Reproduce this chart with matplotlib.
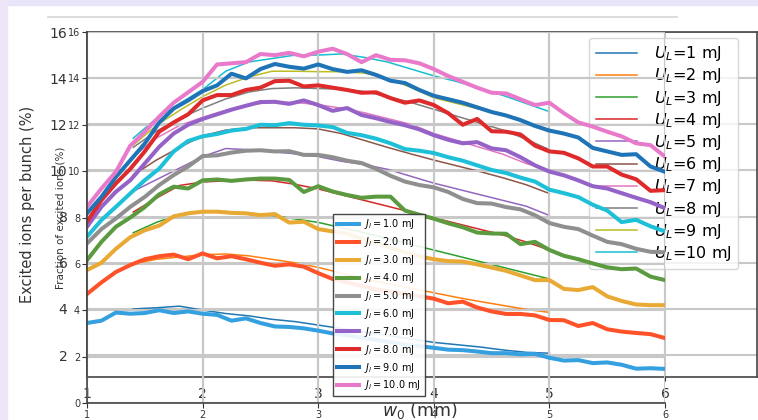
import matplotlib
matplotlib.use("Agg")
import matplotlib.pyplot as plt
from matplotlib.patches import Rectangle
from matplotlib.lines import Line2D
import numpy as np

# thick curves: fraction of excited ions vs beam waist, J_l = 1..10 mJ
w_thick = np.linspace(1.0, 6.0, 41)
j_1 = [3.45, 3.55, 3.9, 3.85, 3.88, 4.0, 3.88, 3.95, 3.85, 3.8, 3.55, 3.65, 3.45, 3.3, 3.28, 3.22, 3.12, 3.0, 2.92, 2.82,
       2.72, 2.62, 2.52, 2.45, 2.38, 2.3, 2.28, 2.22, 2.15, 2.15, 2.1, 2.12, 1.95, 1.83, 1.85, 1.72, 1.75, 1.65, 1.48, 1.5, 1.47]
j_2 = [4.7, 5.2, 5.65, 5.95, 6.2, 6.33, 6.4, 6.2, 6.45, 6.24, 6.33, 6.2, 6.05, 5.92, 5.98, 5.88, 5.6, 5.35, 5.2, 5.05,
       4.9, 4.8, 4.7, 4.6, 4.5, 4.3, 4.37, 4.12, 3.95, 3.84, 3.84, 3.78, 3.58, 3.57, 3.32, 3.45, 3.18, 3.08, 3.02, 2.97, 2.8]
j_3 = [5.73, 6.05, 6.65, 7.15, 7.45, 7.65, 8.05, 8.18, 8.25, 8.25, 8.2, 8.18, 8.1, 8.15, 7.78, 7.82, 7.5, 7.4, 7.3, 7.1,
       6.9, 6.7, 6.5, 6.32, 6.2, 6.12, 6.1, 5.98, 5.84, 5.7, 5.5, 5.3, 5.3, 4.92, 4.87, 5.0, 4.6, 4.4, 4.25, 4.22, 4.22]
j_4 = [6.16, 6.95, 7.6, 8.0, 8.45, 9.0, 9.33, 9.25, 9.6, 9.64, 9.58, 9.64, 9.68, 9.68, 9.62, 9.1, 9.35, 9.12, 8.97, 8.85,
       8.9, 8.9, 8.3, 8.12, 7.95, 7.75, 7.58, 7.35, 7.31, 7.3, 6.85, 6.95, 6.6, 6.35, 6.2, 6.02, 5.85, 5.77, 5.8, 5.45, 5.3]
j_5 = [6.88, 7.5, 7.96, 8.46, 8.89, 9.4, 9.83, 10.2, 10.65, 10.68, 10.8, 10.88, 10.9, 10.85, 10.86, 10.7, 10.7, 10.6, 10.45, 10.35,
       10.1, 9.8, 9.55, 9.4, 9.3, 9.1, 8.8, 8.62, 8.6, 8.45, 8.35, 8.1, 7.76, 7.6, 7.5, 7.22, 6.95, 6.85, 6.65, 6.52, 6.5]
j_6 = [7.17, 7.89, 8.46, 9.04, 9.61, 10.11, 10.85, 11.3, 11.5, 11.6, 11.75, 11.82, 12.0, 11.98, 12.07, 12.0, 11.97, 11.9, 11.65, 11.55,
       11.4, 11.2, 10.95, 10.88, 10.78, 10.6, 10.45, 10.25, 10.05, 9.92, 9.72, 9.55, 9.2, 9.05, 8.88, 8.55, 8.3, 7.8, 7.9, 7.62, 7.4]
j_7 = [7.6, 8.46, 9.11, 9.61, 10.33, 11.05, 11.62, 12.0, 12.25, 12.45, 12.65, 12.82, 12.98, 12.99, 12.9, 13.05, 12.85, 12.6, 12.72, 12.42,
       12.28, 12.12, 11.98, 11.8, 11.55, 11.35, 11.2, 11.25, 10.98, 10.9, 10.6, 10.25, 9.98, 9.82, 9.6, 9.35, 9.25, 9.05, 8.85, 8.66, 8.4]
j_8 = [7.82, 8.75, 9.47, 10.1, 10.85, 11.7, 12.1, 12.45, 13.05, 13.28, 13.28, 13.5, 13.6, 13.88, 13.9, 13.65, 13.7, 13.6, 13.5, 13.38,
       13.4, 13.15, 12.95, 13.05, 12.85, 12.5, 12.0, 12.25, 11.72, 11.7, 11.58, 11.1, 10.85, 10.79, 10.55, 10.2, 10.2, 9.85, 9.65, 9.15, 9.18]
j_9 = [8.18, 8.89, 9.75, 10.47, 11.19, 12.1, 12.7, 13.05, 13.45, 13.7, 14.2, 14.0, 14.4, 14.62, 14.5, 14.42, 14.6, 14.4, 14.28, 14.35,
       14.15, 13.9, 13.8, 13.5, 13.25, 13.1, 12.95, 12.75, 12.55, 12.4, 12.2, 11.95, 11.75, 11.62, 11.45, 11.0, 10.85, 10.7, 10.73, 10.2, 9.97]
j_10 = [8.46, 9.25, 9.97, 11.1, 11.7, 12.35, 12.95, 13.4, 13.85, 14.6, 14.65, 14.7, 15.05, 15.0, 15.1, 14.95, 15.15, 15.28, 15.05, 14.7,
        15.0, 14.8, 14.78, 14.65, 14.4, 14.1, 13.85, 13.6, 13.38, 13.35, 13.1, 12.85, 12.95, 12.5, 12.1, 11.92, 11.7, 11.5, 11.2, 11.12, 10.62]
j_labels = ["1.0", "2.0", "3.0", "4.0", "5.0", "6.0", "7.0", "8.0", "9.0", "10.0"]
j_colors = ["#35a0e0", "#ff5228", "#e8aa35", "#5c9a40", "#8f8f8f", "#1ec0d8", "#9562c8", "#de2a2a", "#1f74b8", "#e97acb"]

# thin curves: excited ions per bunch, U_L = 1..10 mJ
w_thin = [1.4, 1.6, 1.8, 2.0, 2.2, 2.4, 2.6, 2.8, 3.0, 3.2, 3.4, 3.6, 3.8, 4.0, 4.2, 4.4, 4.6, 4.8, 5.0]
u_1 = [4.0, 4.05, 4.12, 3.95, 3.8, 3.7, 3.55, 3.45, 3.3, 3.15, 3.0, 2.85, 2.7, 2.55, 2.45, 2.35, 2.22, 2.12, 2.08]
u_2 = [5.95, 6.15, 6.25, 6.35, 6.38, 6.3, 6.15, 6.0, 5.8, 5.55, 5.3, 5.1, 4.9, 4.7, 4.5, 4.32, 4.15, 3.98, 3.85]
u_3 = [7.3, 7.75, 8.1, 8.22, 8.22, 8.15, 8.05, 7.9, 7.75, 7.52, 7.3, 7.05, 6.8, 6.55, 6.3, 6.05, 5.8, 5.55, 5.3]
u_4 = [8.2, 8.8, 9.35, 9.5, 9.55, 9.58, 9.55, 9.4, 9.2, 8.95, 8.7, 8.45, 8.2, 7.95, 7.7, 7.45, 7.2, 6.9, 6.55]
u_5 = [9.1, 9.6, 10.1, 10.6, 10.95, 10.9, 10.82, 10.72, 10.6, 10.4, 10.25, 10.05, 9.75, 9.45, 9.2, 8.95, 8.7, 8.45, 8.05]
u_6 = [9.8, 10.45, 11.0, 11.5, 11.75, 11.85, 11.85, 11.85, 11.8, 11.6, 11.3, 11.0, 10.72, 10.45, 10.2, 9.95, 9.68, 9.38, 9.0]
u_7 = [10.6, 11.4, 11.95, 12.3, 12.6, 12.85, 12.95, 12.95, 12.85, 12.7, 12.5, 12.25, 12.0, 11.6, 11.3, 11.0, 10.7, 10.3, 10.0]
u_8 = [11.0, 11.7, 12.25, 12.7, 13.1, 13.4, 13.55, 13.58, 13.55, 13.52, 13.42, 13.2, 12.95, 12.65, 12.35, 12.05, 11.75, 11.35, 10.9]
u_9 = [11.1, 11.95, 12.6, 13.2, 13.7, 14.05, 14.3, 14.3, 14.28, 14.28, 14.22, 14.0, 13.6, 13.15, 12.9, 12.65, 12.4, 12.1, 11.65]
u_10 = [11.4, 12.25, 12.9, 13.5, 14.3, 14.7, 14.85, 15.0, 15.0, 15.05, 14.9, 14.7, 14.4, 14.1, 13.85, 13.55, 13.25, 12.9, 12.55]
u_labels = ["1", "2", "3", "4", "5", "6", "7", "8", "9", "10"]
u_colors = plt.get_cmap("tab10").colors

thick = [j_1, j_2, j_3, j_4, j_5, j_6, j_7, j_8, j_9, j_10]
thin = [u_1, u_2, u_3, u_4, u_5, u_6, u_7, u_8, u_9, u_10]

W, H = 758, 420
fig = plt.figure(figsize=(W / 100, H / 100), dpi=100, facecolor="white")
fig.patches.append(Rectangle((0, 1 - 5 / H), 1, 5 / H, transform=fig.transFigure, color="#e9e5f8", zorder=0))
fig.patches.append(Rectangle((0, 0), 7 / W, 1, transform=fig.transFigure, color="#eee6f6", zorder=0))
fig.lines.append(Line2D([48 / W, 677 / W], [1 - 17 / H] * 2, transform=fig.transFigure, color="#d6d6d6", lw=1.2))

grid_c = "#c8c8c8"

# back axes: thin lines
ax1 = fig.add_axes([87 / W, 43 / H, 670 / W, 345 / H])
for y, c, lab in zip(thin, u_colors, u_labels):
    ax1.plot(w_thin, y, color=c, lw=1.1, label=r"$U_L$=" + lab + " mJ")
ax1.set_xlim(1, 1 + 670 / 115.6)
ax1.set_ylim(1.05, 16)
ax1.set_xticks([1, 2, 3, 4, 5, 6])
ax1.set_yticks([2, 4, 6, 8, 10, 12, 14, 16])
ax1.grid(color=grid_c, lw=1.5)
ax1.tick_params(axis="y", length=0, pad=14, labelsize=10, colors="#333333")
ax1.tick_params(axis="x", length=3, pad=4, labelsize=10, colors="#333333")
for s in ax1.spines.values():
    s.set_color("#444444")
    s.set_linewidth(1.2)
ax1.set_ylabel("Excited ions per bunch (%)", fontsize=10.5, color="#333333")
ax1.yaxis.set_label_coords(-0.078, 0.5)
ax1.set_xlabel(r"$w_0$ (mm)", fontsize=12.5, color="#333333")
ax1.xaxis.set_label_coords(0.497, -0.068)
ax1.legend(loc="upper right", bbox_to_anchor=(0.972, 0.983), borderaxespad=0, fontsize=11.5,
           handlelength=2.6, handletextpad=1.05, labelspacing=0.2, framealpha=0.8)

# front axes: thick lines
ax2 = fig.add_axes([87 / W, 17 / H, 578 / W, 371 / H])
ax2.patch.set_alpha(0)
for y, c, lab in zip(thick, j_colors, j_labels):
    ax2.plot(w_thick, y, color=c, lw=2.9, label=r"$J_l=" + lab + r"$ mJ")
ax2.set_xlim(1, 6)
ax2.set_ylim(0, 16)
ax2.set_xticks([1, 2, 3, 4, 5, 6])
ax2.set_yticks([0, 2, 4, 6, 8, 10, 12, 14, 16])
ax2.grid(color=grid_c, lw=1.5)
ax2.tick_params(length=3.5, pad=1.5, labelsize=7, colors="#333333")
ax2.spines["top"].set_visible(False)
ax2.spines["right"].set_visible(False)
for s in ["left", "bottom"]:
    ax2.spines[s].set_color("#444444")
    ax2.spines[s].set_linewidth(1.2)
ax2.set_ylabel("Fraction of excited ions (%)", fontsize=7.5, color="#333333")
ax2.yaxis.set_label_coords(-0.038, 0.5)
ax2.legend(loc="lower left", bbox_to_anchor=(0.425, 0.018), borderaxespad=0,
           fontsize=7, handlelength=2.3, handletextpad=0.5,
           labelspacing=0.4, fancybox=False, edgecolor="#333333", framealpha=0.9)

fig.savefig("out.png", dpi=100, facecolor=fig.get_facecolor())
